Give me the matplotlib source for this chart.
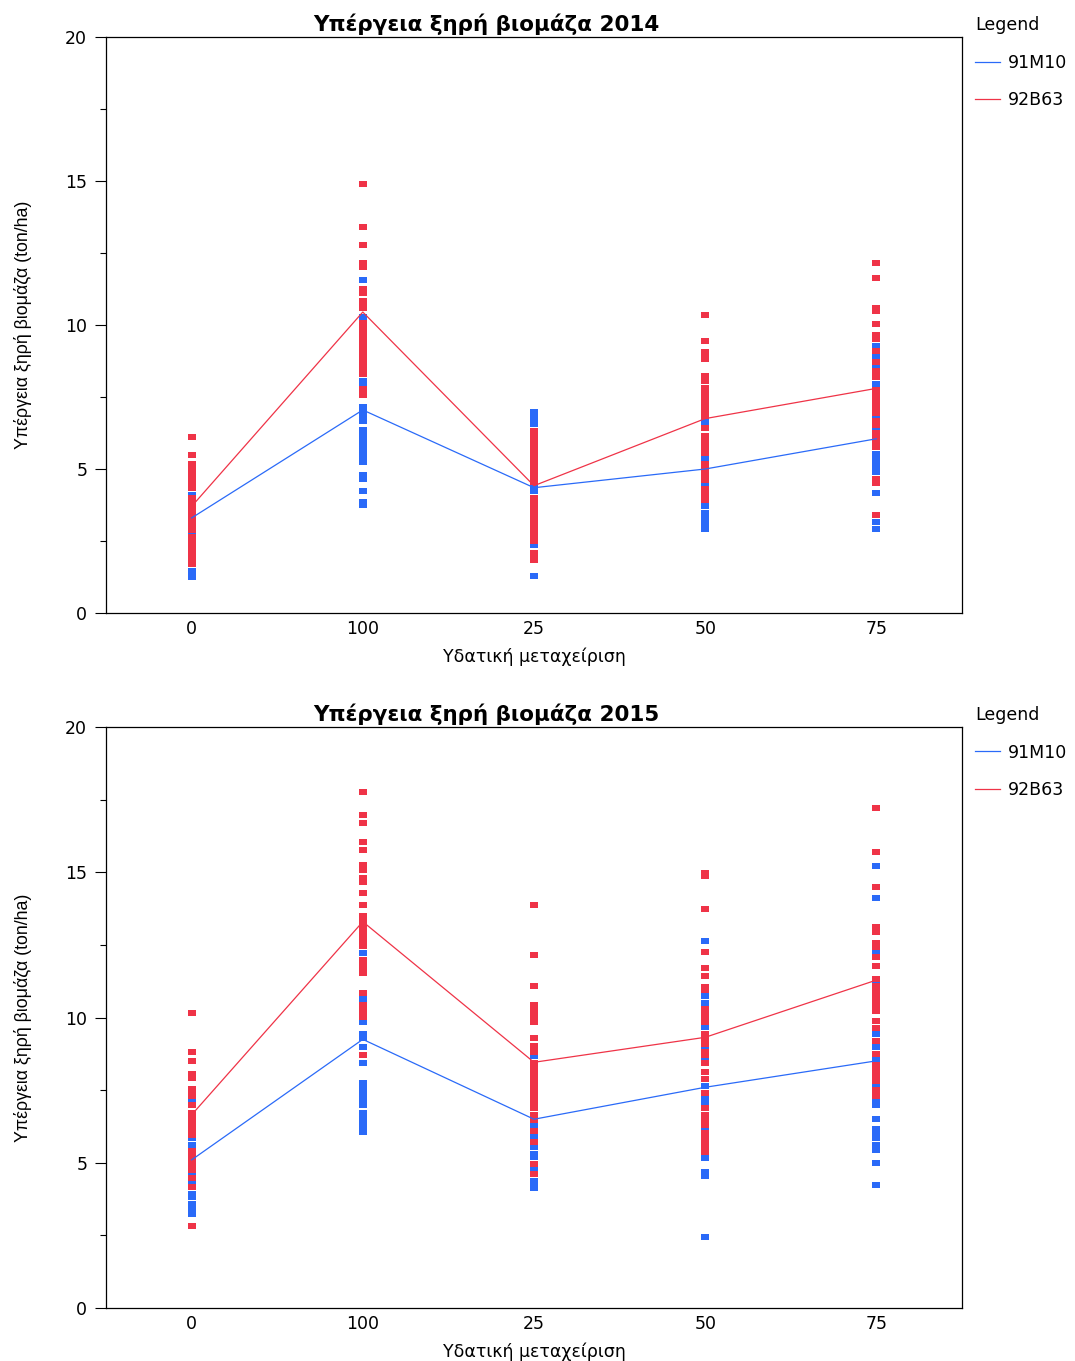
import matplotlib
matplotlib.use("Agg")
import matplotlib.pyplot as plt
from matplotlib import font_manager

categories = ["0", "100", "25", "50", "75"]
series_names = ["91M10", "92B63"]

# ---- 2014 ----
pts_2014_91M10 = {
    "0": [4.1, 2.8, 1.46, 1.3, 1.24],
    "100": [11.55, 10.29, 8.07, 7.95, 7.14, 7.0, 6.87, 6.75, 6.65, 6.34, 6.2, 6.06, 5.92,
            5.78, 5.64, 5.5, 5.38, 5.26, 4.78, 4.67, 4.25, 3.87, 3.76],
    "25": [6.97, 6.83, 6.69, 6.55, 4.33, 4.25, 2.35, 1.27],
    "50": [6.63, 5.38, 4.5, 3.72, 3.46, 3.32, 3.18, 3.04, 2.9],
    "75": [9.27, 8.9, 8.55, 7.95, 6.85, 6.4, 5.51, 5.37, 5.23, 5.09, 4.95, 4.89, 4.18,
           3.15, 2.93],
}
pts_2014_92B63 = {
    "0": [6.10, 5.48, 5.19, 5.05, 4.9, 4.75, 4.6, 4.45, 4.33, 4.0, 3.85, 3.7, 3.55, 3.4,
          3.25, 3.1, 2.95, 2.88, 2.65, 2.5, 2.35, 2.2, 2.05, 1.9, 1.75, 1.69],
    "100": [14.88, 13.39, 12.78, 12.15, 12.0, 11.24, 11.1, 10.82, 10.7, 10.6, 10.06, 9.92,
            9.78, 9.64, 9.5, 9.36, 9.22, 9.08, 8.94, 8.8, 8.66, 8.52, 8.4, 8.3, 7.79, 7.58],
    "25": [6.32, 6.18, 6.04, 5.9, 5.76, 5.62, 5.48, 5.34, 5.2, 5.06, 4.92, 4.78, 4.65,
           4.56, 3.98, 3.84, 3.7, 3.56, 3.42, 3.28, 3.14, 3.0, 2.86, 2.72, 2.6, 2.51,
           2.1, 1.95, 1.85],
    "50": [10.36, 9.46, 9.05, 8.93, 8.83, 8.22, 8.07, 7.8, 7.66, 7.52, 7.38, 7.24, 7.1,
           6.96, 6.85, 6.41, 6.13, 5.99, 5.85, 5.71, 5.57, 5.19, 5.05, 4.91, 4.77, 4.63,
           4.29, 4.15, 4.02, 3.94],
    "75": [12.15, 11.63, 10.58, 10.47, 10.05, 9.64, 9.53, 9.11, 8.7, 8.42, 8.21, 7.76,
           7.62, 7.48, 7.34, 7.2, 7.06, 6.96, 6.65, 6.54, 6.24, 6.1, 5.96, 5.84, 5.78,
           4.65, 4.53, 3.42],
}
mean_2014_91M10 = [3.3, 7.05, 4.35, 5.0, 6.05]
mean_2014_92B63 = [3.7, 10.45, 4.42, 6.75, 7.8]

# ---- 2015 ----
pts_2015_91M10 = {
    "0": [7.1, 5.85, 5.61, 4.55, 4.3, 3.91, 3.83, 3.57, 3.43, 3.3, 3.25],
    "100": [12.22, 10.64, 9.83, 9.42, 9.31, 9.0, 8.43, 7.73, 7.59, 7.45, 7.31, 7.17,
            7.03, 7.0, 6.7, 6.56, 6.42, 6.28, 6.14, 6.07],
    "25": [8.93, 8.68, 6.3, 5.9, 5.56, 5.29, 5.21, 4.75, 4.36, 4.25, 4.14],
    "50": [12.65, 10.74, 10.5, 9.66, 8.95, 8.6, 7.64, 7.26, 7.05, 6.2, 5.16, 4.7, 4.56,
           2.43],
    "75": [15.2, 14.1, 12.25, 11.2, 9.43, 8.97, 8.55, 7.65, 7.08, 7.0, 6.52, 6.18, 6.04,
           5.92, 5.87, 5.6, 5.45, 5.01, 4.25],
}
pts_2015_92B63 = {
    "0": [10.17, 8.83, 8.52, 8.04, 7.93, 7.53, 7.4, 7.31, 7.0, 6.7, 6.56, 6.42, 6.28,
          6.14, 6.0, 5.97, 5.39, 5.25, 5.11, 4.97, 4.83, 4.76, 4.46, 4.15, 2.84],
    "100": [17.75, 16.96, 16.71, 16.03, 15.78, 15.24, 15.09, 14.79, 14.68, 14.3, 13.87,
            13.48, 13.34, 13.2, 13.06, 12.92, 12.78, 12.64, 12.5, 12.47, 11.97, 11.83,
            11.69, 11.55, 10.86, 10.42, 10.28, 10.14, 10.03, 8.71],
    "25": [13.86, 12.17, 11.1, 10.42, 10.28, 10.14, 10.0, 9.86, 9.31, 9.03, 8.83, 8.42,
           8.28, 8.14, 8.0, 7.86, 7.72, 7.58, 7.44, 7.3, 7.16, 7.02, 6.9, 6.63, 6.49,
           6.11, 5.7, 4.97, 4.6],
    "50": [14.99, 14.88, 13.75, 12.27, 11.69, 11.44, 11.04, 10.96, 10.31, 10.17, 10.03,
           9.9, 9.86, 9.45, 9.31, 9.17, 9.1, 8.8, 8.72, 8.42, 8.14, 7.9, 7.4, 6.9, 6.63,
           6.5, 6.4, 6.31, 6.01, 5.87, 5.73, 5.59, 5.45, 5.38],
    "75": [17.23, 15.71, 14.51, 13.1, 12.96, 12.55, 12.44, 12.07, 11.79, 11.34, 11.07,
           10.93, 10.79, 10.65, 10.51, 10.37, 10.24, 9.87, 9.65, 9.21, 8.73, 8.35, 8.21,
           8.07, 7.93, 7.83, 7.49, 7.31],
}
mean_2015_91M10 = [5.1, 9.25, 6.5, 7.6, 8.51]
mean_2015_92B63 = [6.65, 13.3, 8.46, 9.32, 11.29]

titles = ["Υπέργεια ξηρή βιομάζα 2014", "Υπέργεια ξηρή βιομάζα 2015"]
xlabel = "Υδατική μεταχείριση"
ylabel = "Υπέργεια ξηρή βιομάζα (ton/ha)"
yticks = [0, 5, 10, 15, 20]

BLUE = "#2a6af8"
RED = "#ef3347"

avail = {f.name for f in font_manager.fontManager.ttflist}
LIB = "Liberation Sans" if "Liberation Sans" in avail else "DejaVu Sans"
plt.rcParams["font.family"] = ["DejaVu Sans"]

rect = [(-1, -0.84), (1, -0.84), (1, 0.84), (-1, 0.84), (-1, -0.84)]

fig = plt.figure(figsize=(10.75, 13.61), dpi=100)
ax_pos = [[0.0986, 0.5496, 0.7963, 0.4232], [0.0986, 0.0389, 0.7963, 0.4269]]

datasets = [
    (pts_2014_91M10, pts_2014_92B63, mean_2014_91M10, mean_2014_92B63),
    (pts_2015_91M10, pts_2015_92B63, mean_2015_91M10, mean_2015_92B63),
]

for i, (pb, pr, mb, mr) in enumerate(datasets):
    ax = fig.add_axes(ax_pos[i])
    for cat in categories:
        ax.plot([cat] * len(pb[cat]), pb[cat], linestyle="none", marker=rect,
                markersize=5.8, color=BLUE, markeredgewidth=0, zorder=2)
    for cat in categories:
        ax.plot([cat] * len(pr[cat]), pr[cat], linestyle="none", marker=rect,
                markersize=5.8, color=RED, markeredgewidth=0, zorder=3)
    ax.plot(categories, mb, color=BLUE, lw=0.9, label=series_names[0], zorder=4)
    ax.plot(categories, mr, color=RED, lw=0.9, label=series_names[1], zorder=4)

    ax.set_xlim(-0.5, 4.5)
    ax.set_ylim(0, 20)
    ax.set_yticks(yticks)
    ax.set_yticks([2.5, 7.5, 12.5, 17.5], minor=True)
    ax.tick_params(axis="y", which="major", length=8, width=0.8, labelsize=12.5, pad=5.5)
    ax.tick_params(axis="y", which="minor", length=4, width=0.8)
    ax.tick_params(axis="x", which="major", length=0, labelsize=12.5, pad=5)
    for s in ax.spines.values():
        s.set_linewidth(0.9)
        s.set_color("black")
    ax.set_title(titles[i], fontsize=15.5, fontweight="bold", pad=4, x=0.444)
    ax.set_xlabel(xlabel, fontsize=12.5, labelpad=7)
    ax.set_ylabel(ylabel, fontsize=12.8, family=[LIB, "DejaVu Sans"])
    ax.yaxis.set_label_coords(-0.086, 0.5)
    ax.legend(loc="upper left", bbox_to_anchor=(0.995, 1.066), frameon=False,
              title="Legend", fontsize=12.5, title_fontsize=12.5, alignment="left",
              handlelength=1.45, handletextpad=0.46, labelspacing=1.12,
              borderaxespad=0.6)

fig.savefig("out.png", dpi=100)
